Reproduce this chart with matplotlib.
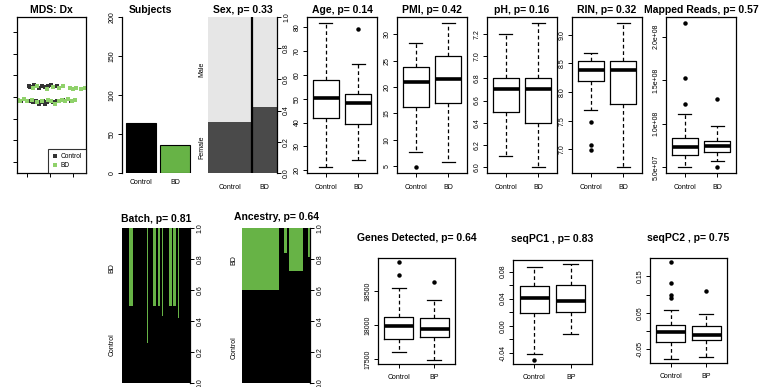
import matplotlib.pyplot as plt
import numpy as np

plt.rcParams['font.family'] = ['Liberation Sans', 'DejaVu Sans']

W, H = 760, 387
GREEN = '#67b346'
LIGHT_GREEN = '#8fd16a'

# MDS: Dx (first two dimensions, arbitrary units)
mds_ctrl_x = [-0.18, -0.17, -0.14, -0.10, -0.07, -0.04, -0.02, 0.01, 0.03, 0.06,
              -0.28, -0.25, -0.18, -0.15, -0.12, -0.10, -0.08, -0.06, -0.04, -0.03,
              -0.01, 0.03, 0.06, 0.11, 0.18]
mds_ctrl_y = [0.05, 0.045, 0.055, 0.04, 0.05, 0.045, 0.05, 0.055, 0.045, 0.05,
              -0.015, -0.02, -0.02, -0.025, -0.02, -0.03, -0.025, -0.02, -0.03, -0.025,
              -0.02, -0.025, -0.02, -0.015, -0.02]
mds_bd_x = [-0.15, -0.11, -0.03, 0.03, 0.08, 0.11, 0.17, 0.20, 0.23, 0.27, 0.30,
            -0.28, -0.26, -0.23, -0.20, -0.16, -0.11, -0.07, -0.02, 0.01, 0.04,
            0.08, 0.10, 0.13, 0.16, 0.19, 0.22]
mds_bd_y = [0.04, 0.05, 0.035, 0.045, 0.04, 0.05, 0.04, 0.035, 0.04, 0.035, 0.04,
            -0.015, -0.02, -0.01, -0.02, -0.015, -0.025, -0.02, -0.015, -0.02, -0.03,
            -0.02, -0.015, -0.02, -0.01, -0.02, -0.015]

# Subjects
groups = ['Control', 'BD']
subjects_n = [64, 36]

# Sex spine plot
female_share = [0.33, 0.42]

# box plot stats: (low whisker, Q1, median, Q3, high whisker), outliers
age_stats = [(21.3, 42.1, 50.5, 57.8, 81.8), (24.5, 39.2, 48.0, 51.8, 64.4)]
age_out = [[], [79]]
pmi_stats = [(7.7, 16.3, 21.0, 23.8, 28.3), (5.7, 17.0, 21.5, 25.9, 32.2)]
pmi_out = [[4.8], []]
ph_stats = [(6.1, 6.5, 6.7, 6.8, 7.2), (6.0, 6.4, 6.7, 6.8, 7.3)]
ph_out = [[], []]
rin_stats = [(7.69, 8.19, 8.39, 8.55, 8.69), (6.69, 7.80, 8.39, 8.55, 9.21)]
rin_out = [[7.48, 7.08, 6.99], []]
reads_stats = [(5.0e7, 6.4e7, 7.35e7, 8.4e7, 1.11e8), (5.7e7, 6.75e7, 7.45e7, 8.0e7, 9.75e7)]
reads_out = [[2.16e8, 1.52e8, 1.225e8], [1.285e8, 5.0e7]]

# Batch / Ancestry spine plots: column share of samples, BD share within column
batch_share = [7, 4.3, 13.7, 1, 5.3, 2.7, 1.7, 2.3, 1.7, 1.6, 5.7, 2.7, 1.6, 2.7, 1.7, 1.6, 10.7]
batch_bd = [0, 0.5, 0, 0.74, 0, 0.5, 0, 0.5, 0, 0.57, 0, 0.5, 0, 0.5, 0, 0.58, 0]
anc_share = [37, 5, 3, 2, 14, 5, 2]
anc_bd = [0.4, 0, 0.16, 0, 0.28, 0, 0.19]

# bottom row box plots
groups2 = ['Control', 'BP']
genes_stats = [(17609, 17798, 17982, 18112, 18545), (17485, 17822, 17948, 18097, 18370)]
genes_out = [[18927, 18728], [18628]]
pc1_stats = [(-0.042, 0.0182, 0.041, 0.0593, 0.0874), (-0.0123, 0.0197, 0.036, 0.0603, 0.0914)]
pc1_out = [[-0.0508], []]
pc2_stats = [(-0.077, -0.030, -0.0026, 0.0173, 0.059), (-0.0707, -0.0255, -0.010, 0.0138, 0.047)]
pc2_out = [[0.190, 0.131, 0.099, 0.090], [0.111]]

fig = plt.figure(figsize=(W / 100, H / 100), dpi=100)


def panel(l, t, r, b):
    return fig.add_axes([l / W, 1 - b / H, (r - l) / W, (b - t) / H])


def base_style(ax):
    ax.tick_params(length=3, width=0.7, labelsize=5, pad=1.5)
    for s in ax.spines.values():
        s.set_linewidth(0.9)


def title(ax, text, pad=3):
    ax.set_title(text, fontsize=7.5, fontweight='bold', pad=pad)


def boxpanel(ax, name, stats, outs, labels, ticks, ticklabels, minor=None, xpad=5, tpad=3):
    base_style(ax)
    bx = []
    for (lo, q1, med, q3, hi), fl in zip(stats, outs):
        bx.append(dict(whislo=lo, q1=q1, med=med, q3=q3, whishi=hi, fliers=fl))
    ax.bxp(bx, positions=[1, 2], widths=0.8, capwidths=0.4,
           boxprops=dict(lw=0.9), capprops=dict(lw=0.9),
           whiskerprops=dict(lw=0.9, ls=(0, (3, 2.2))),
           medianprops=dict(color='black', lw=2.6, solid_capstyle='butt'),
           flierprops=dict(marker='o', ms=2.2, mfc='black', mec='black'))
    vals = [v for s in stats for v in s] + [v for f in outs for v in f]
    lo, hi = min(vals), max(vals)
    pad = 0.04 * (hi - lo)
    ax.set_ylim(lo - pad, hi + pad)
    ax.set_xlim(0.42, 2.58)
    ax.set_xticks([1, 2], labels)
    ax.tick_params(axis='x', pad=xpad)
    ax.set_yticks(ticks, ticklabels, rotation=90, va='center')
    if minor is not None:
        ax.set_yticks(minor, minor=True)
        ax.tick_params(axis='y', which='minor', length=3, width=0.7)
    title(ax, name, tpad)


def spine(ax, shares, upper, low_col, up_col):
    shares = np.asarray(shares, float)
    shares = shares / shares.sum()
    left = np.concatenate([[0], np.cumsum(shares)[:-1]])
    upper = np.asarray(upper, float)
    ax.bar(left, 1 - upper, width=shares, align='edge', color=low_col, lw=0)
    ax.bar(left, upper, bottom=1 - upper, width=shares, align='edge', color=up_col, lw=0)
    ax.set_xlim(0, 1)
    ax.set_ylim(0, 1)
    ax.yaxis.tick_right()
    ax.set_yticks(np.arange(0, 1.01, 0.2), [f'{v:.1f}' for v in np.arange(0, 1.01, 0.2)],
                  rotation=90, va='center')
    ax.tick_params(axis='y', length=3, width=0.7, labelsize=5, pad=1.5)
    for k in ['top', 'left', 'bottom']:
        ax.spines[k].set_visible(False)
    ax.spines['right'].set_linewidth(0.9)
    return left, shares


# MDS
ax = panel(17, 17, 86, 173)
base_style(ax)
ax.scatter(mds_ctrl_x, mds_ctrl_y, s=8, marker='s', color='#333333', lw=0, label='Control')
ax.scatter(mds_bd_x, mds_bd_y, s=8, marker='s', color=LIGHT_GREEN, lw=0, label='BD')
ax.set_xlim(-0.287, 0.313)
ax.set_ylim(-0.35, 0.369)
ax.set_xticks([-0.2, 0, 0.2], [])
ax.set_yticks(np.arange(-0.3, 0.31, 0.1), [])
leg = ax.legend(loc='lower right', fontsize=4.8, frameon=True, fancybox=False,
                borderpad=0.6, handletextpad=0.3, handlelength=1.0, borderaxespad=0,
                labelspacing=0.3, markerscale=0.8)
leg.get_frame().set_edgecolor('black')
leg.get_frame().set_linewidth(0.8)
title(ax, 'MDS: Dx')

# Subjects
ax = panel(122, 17, 200, 173)
base_style(ax)
ax.bar([0.63, 1.78], subjects_n, width=1, color=['black', GREEN], edgecolor='black', lw=0.8)
ax.set_xlim(0, 2.6)
ax.set_ylim(0, 200)
ax.set_yticks([0, 50, 100, 150, 200], ['0', '50', '100', '150', '200'], rotation=90, va='center')
ax.set_xticks([0.63, 1.78], groups)
ax.tick_params(axis='x', length=0, pad=4)
for k in ['top', 'right', 'bottom']:
    ax.spines[k].set_visible(False)
ax.set_title('Subjects', fontsize=7.5, fontweight='bold', pad=3, x=0.37)

# Sex
ax = panel(208, 17, 277, 173)
left, w = spine(ax, subjects_n, 1 - np.asarray(female_share), '#4a4a4a', '#e6e6e6')
for x in left[1:]:
    ax.axvline(x, color='black', lw=1.6)
ax.set_xticks(left + w / 2, groups)
ax.tick_params(axis='x', length=0, labelsize=5, pad=8)
ax.text(-0.09, (1 + female_share[0]) / 2, 'Male', rotation=90, fontsize=5,
        ha='center', va='center', transform=ax.transAxes)
ax.text(-0.09, female_share[0] / 2, 'Female', rotation=90, fontsize=5,
        ha='center', va='center', transform=ax.transAxes)
title(ax, 'Sex, p= 0.33')

# Age, PMI, pH, RIN, Mapped reads
ax = panel(307, 17, 377, 173)
boxpanel(ax, 'Age, p= 0.14', age_stats, age_out, groups, range(20, 81, 10),
         [str(v) for v in range(20, 81, 10)])
ax = panel(397, 17, 467, 173)
boxpanel(ax, 'PMI, p= 0.42', pmi_stats, pmi_out, groups, range(5, 31, 5),
         [str(v) for v in range(5, 31, 5)])
ax = panel(487, 17, 557, 173)
pht = np.round(np.arange(6.0, 7.21, 0.2), 1)
boxpanel(ax, 'pH, p= 0.16', ph_stats, ph_out, groups, pht, [f'{v:.1f}' for v in pht])
ax = panel(572, 17, 642, 173)
rint = [7.0, 7.5, 8.0, 8.5, 9.0]
boxpanel(ax, 'RIN, p= 0.32', rin_stats, rin_out, groups, rint, [f'{v:.1f}' for v in rint])
ax = panel(666, 17, 736, 173)
rdt = [5e7, 1e8, 1.5e8, 2e8]
boxpanel(ax, 'Mapped Reads, p= 0.57', reads_stats, reads_out, groups, rdt,
         [f'{v:.1e}' for v in rdt])

# Batch
ax = panel(122, 228, 190, 383)
spine(ax, batch_share, batch_bd, 'black', GREEN)
ax.set_xticks([])
ax.text(-0.15, 0.74, 'BD', rotation=90, fontsize=5, ha='center', va='center', transform=ax.transAxes)
ax.text(-0.15, 0.245, 'Control', rotation=90, fontsize=5, ha='center', va='center',
        transform=ax.transAxes)
title(ax, 'Batch, p= 0.81', 4)

# Ancestry
ax = panel(242, 228, 310, 383)
spine(ax, anc_share, anc_bd, 'black', GREEN)
ax.set_xticks([])
ax.text(-0.12, 0.79, 'BD', rotation=90, fontsize=5, ha='center', va='center', transform=ax.transAxes)
ax.text(-0.12, 0.23, 'Control', rotation=90, fontsize=5, ha='center', va='center',
        transform=ax.transAxes)
title(ax, 'Ancestry, p= 0.64', 6)

# Genes detected, seqPC1, seqPC2
ax = panel(378, 258, 455, 364)
boxpanel(ax, 'Genes Detected, p= 0.64', genes_stats, genes_out, groups2,
         [17500, 18000, 18500], ['17500', '18000', '18500'], xpad=4, tpad=12)
ax = panel(513, 260, 592, 364)
boxpanel(ax, 'seqPC1 , p= 0.83', pc1_stats, pc1_out, groups2,
         [-0.04, 0.0, 0.04, 0.08], ['-0.04', '0.00', '0.04', '0.08'],
         minor=[-0.02, 0.02, 0.06], xpad=4, tpad=13)
ax = panel(650, 258, 727, 363)
boxpanel(ax, 'seqPC2 , p= 0.75', pc2_stats, pc2_out, groups2,
         [-0.05, 0.05, 0.15], ['-0.05', '0.05', '0.15'],
         minor=[0.0, 0.10], xpad=4, tpad=12)

fig.savefig('out.png', dpi=100)
